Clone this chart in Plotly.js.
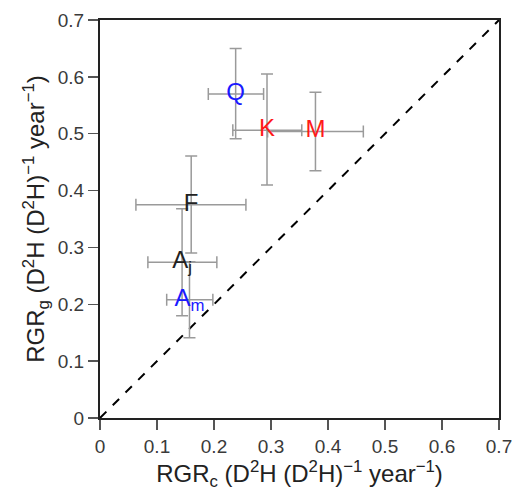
<!DOCTYPE html>
<html><head><meta charset="utf-8">
<script src="https://cdn.plot.ly/plotly-3.0.1.min.js"></script>
<style>html,body{margin:0;padding:0;background:#fff}</style>
</head><body><div id="chart" style="width:519px;height:494px"></div>
<script>
// Data
const labels = ["Q", "K", "M", "F", "A<sub>j</sub>", "A<sub>m</sub>"];
const labelColors = ["#1a1aff", "#ff1a1a", "#ff1a1a", "#222222", "#222222", "#1a1aff"];
const rgrC = [0.238, 0.293, 0.378, 0.160, 0.144, 0.157];
const rgrG = [0.570, 0.506, 0.504, 0.375, 0.274, 0.208];
const xErrPlus = [0.049, 0.061, 0.084, 0.096, 0.061, 0.041];
const xErrMinus = [0.048, 0.060, 0.084, 0.097, 0.060, 0.040];
const yErrPlus = [0.080, 0.099, 0.069, 0.086, 0.094, 0.067];
const yErrMinus = [0.079, 0.096, 0.069, 0.085, 0.094, 0.067];
const oneToOne = [0, 0.7];
const tickVals = [0, 0.1, 0.2, 0.3, 0.4, 0.5, 0.6, 0.7];
const tickText = ["0", "0.1", "0.2", "0.3", "0.4", "0.5", "0.6", "0.7"];

const font = "Liberation Sans, Arial, Helvetica, sans-serif";

const traces = [
  {
    x: oneToOne, y: oneToOne, mode: "lines", type: "scatter",
    line: {color: "#000", width: 2, dash: "dash"}, hoverinfo: "skip"
  },
  {
    x: rgrC, y: rgrG, mode: "markers", type: "scatter",
    marker: {size: 1, color: "rgba(0,0,0,0)"},
    error_x: {type: "data", symmetric: false, array: xErrPlus, arrayminus: xErrMinus,
              color: "#9a9a9a", thickness: 1.5, width: 6},
    error_y: {type: "data", symmetric: false, array: yErrPlus, arrayminus: yErrMinus,
              color: "#9a9a9a", thickness: 1.5, width: 6}
  },
  {
    x: rgrC, y: rgrG, mode: "text", type: "scatter",
    text: labels, textposition: "middle center",
    textfont: {family: font, size: 24, color: labelColors}
  }
];

const axisCommon = {
  range: [0, 0.7], tickvals: tickVals, ticktext: tickText,
  showgrid: false, zeroline: false, showline: true, mirror: true,
  linecolor: "#222", linewidth: 2, ticks: "outside", ticklen: 10,
  tickcolor: "#555", tickwidth: 1.5,
  tickfont: {family: font, size: 19, color: "#3a3a3a"}
};

const layout = {
  width: 519, height: 494,
  margin: {l: 100, r: 20, t: 20, b: 76},
  paper_bgcolor: "#fff", plot_bgcolor: "#fff",
  showlegend: false,
  xaxis: Object.assign({}, axisCommon, {
    title: {text: "RGR<sub>c</sub> (D<sup>2</sup>H (D<sup>2</sup>H)<sup>−1</sup> year<sup>−1</sup>)",
            font: {family: font, size: 24, color: "#222"}, standoff: 6}
  }),
  yaxis: Object.assign({}, axisCommon, {
    title: {text: "RGR<sub>g</sub> (D<sup>2</sup>H (D<sup>2</sup>H)<sup>−1</sup> year<sup>−1</sup>)",
            font: {family: font, size: 24, color: "#222"}, standoff: 6}
  })
};

Plotly.newPlot("chart", traces, layout, {displayModeBar: false, staticPlot: true});
</script>
</body></html>
